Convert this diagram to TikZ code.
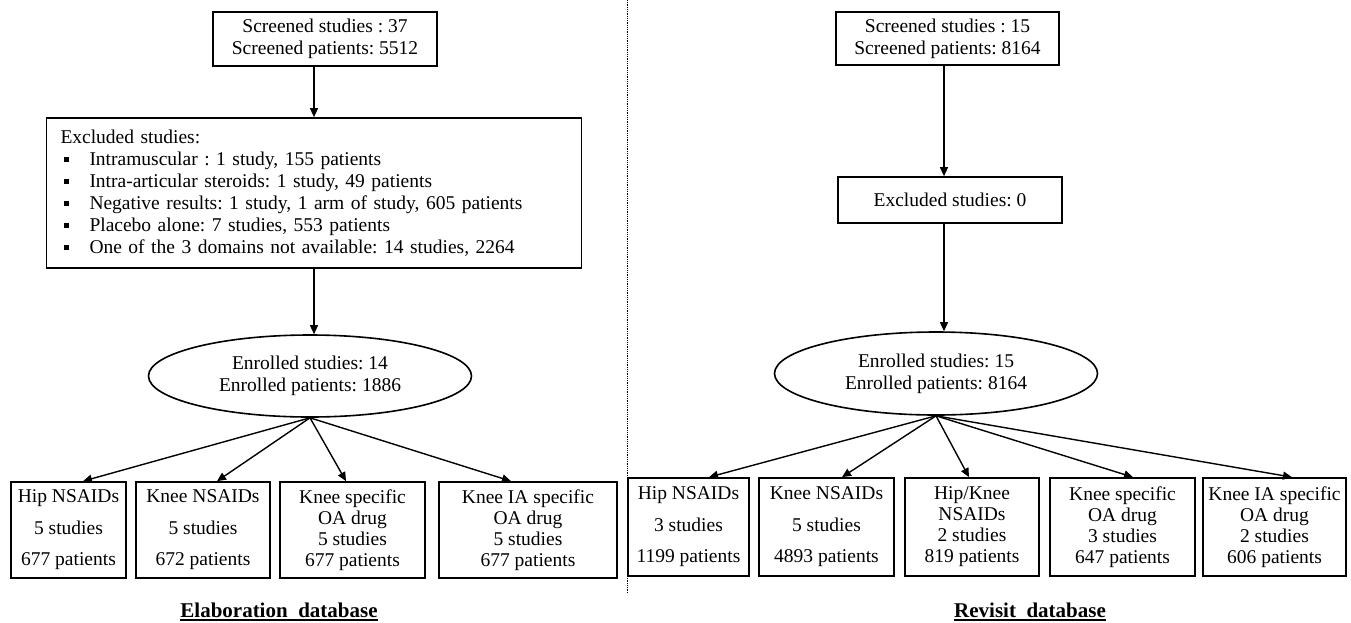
\documentclass[tikz,border=0pt]{standalone}
\usepackage{fontspec}
\setmainfont{Liberation Serif}
\usetikzlibrary{arrows.meta,shapes.geometric}
\frenchspacing
\newcommand{\sqb}{\hspace*{3pt}\makebox[26pt][l]{\rule[3pt]{5pt}{5.5pt}}}
\begin{document}
\begin{tikzpicture}[x=1pt,y=-1pt,
  every node/.style={font=\fontsize{19.5}{22}\selectfont},
  box/.style={draw, line width=1.7pt, inner sep=0pt, align=center},
  ell/.style={draw, ellipse, line width=1.6pt, inner sep=0pt, align=center},
  arr/.style={-{Triangle[length=9pt,width=8pt]}, line width=1.4pt},
  lab/.style={font=\fontsize{21}{24}\selectfont\bfseries, inner sep=0pt, anchor=base},
  uline/.style={line width=1.4pt},
  divider/.style={densely dotted, line width=0.8pt}]
\useasboundingbox (0,0) rectangle (1351,622);

% divider
\draw[divider] (627.5,0) -- (627.5,593);

% ---------- left: Elaboration ----------
\node[box, minimum width=224pt, minimum height=54pt] (tl) at (325,39)
  {Screened studies : 37\\Screened patients: 5512};
\node[box, align=left, text width=507pt, inner xsep=14pt, minimum height=150pt] (exl) at (314,193)
  {Excluded studies:\\
   \sqb Intramuscular : 1 study, 155 patients\\
   \sqb Intra-articular steroids: 1 study, 49 patients\\
   \sqb Negative results: 1 study, 1 arm of study, 605 patients\\
   \sqb Placebo alone: 7 studies, 553 patients\\
   \sqb One of the 3 domains not available: 14 studies, 2264};
\node[ell, minimum width=323pt, minimum height=82pt] (el) at (310,376)
  {Enrolled studies: 14\\Enrolled patients: 1886};

\node[box, minimum width=115pt, minimum height=96pt] (b1) at (68.5,530)
  {Hip NSAIDs\\[9.5pt]5 studies\\[9.5pt]677 patients};
\node[box, minimum width=134pt, minimum height=96pt] (b2) at (203,530)
  {Knee NSAIDs\\[9.5pt]5 studies\\[9.5pt]672 patients};
\node[box, minimum width=145pt, minimum height=96pt] (b3) at (352.5,530)
  {Knee specific\\[-1pt]OA drug\\[-1pt]5 studies\\[-1pt]677 patients};
\node[box, minimum width=178pt, minimum height=96pt] (b4) at (528,530)
  {Knee IA specific\\[-1pt]OA drug\\[-1pt]5 studies\\[-1pt]677 patients};

\draw[arr] (exl.north |- tl.south) -- (exl.north);
\draw[arr] (exl.south) -- (exl.south |- el.north);
\draw[arr] (el.south) -- ([xshift=14.5pt]b1.north);
\draw[arr] (el.south) -- ([xshift=14pt]b2.north);
\draw[arr] (el.south) -- ([xshift=-6.5pt]b3.north);
\draw[arr] (el.south) -- ([xshift=-17pt]b4.north);

\node[lab] (l1) at (279,617) {Elaboration\ \ database};
\draw[uline] ([yshift=-3pt]l1.base west) -- ([yshift=-3pt]l1.base east);

% ---------- right: Revisit ----------
\node[box, minimum width=223pt, minimum height=53pt] (tr) at (947.5,38.5)
  {Screened studies : 15\\Screened patients: 8164};
\node[box, minimum width=224pt, minimum height=46pt] (exr) at (950,200)
  {Excluded studies: 0};
\node[ell, minimum width=323pt, minimum height=83pt] (er) at (936,373.5)
  {Enrolled studies: 15\\Enrolled patients: 8164};

\node[box, minimum width=121pt, minimum height=98pt] (c1) at (688.5,527)
  {Hip NSAIDs\\[9.5pt]3 studies\\[9.5pt]1199 patients};
\node[box, minimum width=135pt, minimum height=98pt] (c2) at (826.5,527)
  {Knee NSAIDs\\[9.5pt]5 studies\\[9.5pt]4893 patients};
\node[box, minimum width=134pt, minimum height=98pt] (c3) at (972,527)
  {Hip/Knee\\[-1pt]NSAIDs\\[-1pt]2 studies\\[-1pt]819 patients};
\node[box, minimum width=145pt, minimum height=98pt] (c4) at (1122.5,527)
  {Knee specific\\[-1pt]OA drug\\[-1pt]3 studies\\[-1pt]647 patients};
\node[box, minimum width=143pt, minimum height=98pt] (c5) at (1274.5,527)
  {Knee IA specific\\[-1pt]OA drug\\[-1pt]2 studies\\[-1pt]606 patients};

\draw[arr] ([xshift=-3.5pt]tr.south) -- ([xshift=-6pt]exr.north);
\draw[arr] ([xshift=-6pt]exr.south) -- ([xshift=-6pt]exr.south |- er.north);
\draw[arr] (er.south) -- ([xshift=20.5pt]c1.north);
\draw[arr] (er.south) -- ([xshift=15.5pt]c2.north);
\draw[arr] (er.south) -- ([xshift=-3pt]c3.north);
\draw[arr] (er.south) -- ([xshift=10.5pt]c4.north);
\draw[arr] (er.south) -- ([xshift=17.5pt]c5.north);

\node[lab] (l2) at (1030,617) {Revisit\ \ database};
\draw[uline] ([yshift=-3pt]l2.base west) -- ([yshift=-3pt]l2.base east);
\end{tikzpicture}
\end{document}
